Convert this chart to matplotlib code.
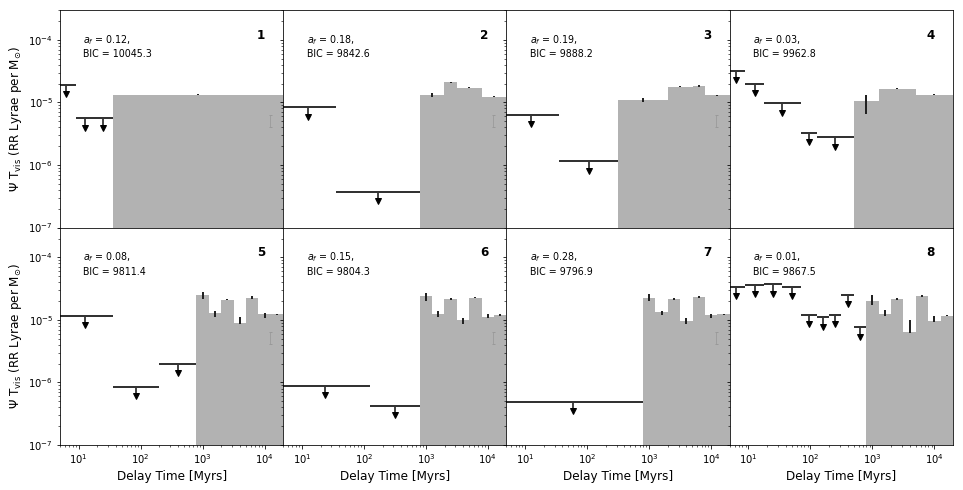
"""
RR Lyrae delay time distributions, 8 model fits
"""
import numpy as np
import matplotlib.pyplot as plt

# bin edges are log10(Myr); values in RR Lyrae per Msun
# panel 1
ul_edges_1 = [(0.65, 0.95), (0.95, 1.25), (1.25, 1.55)]
ul_vals_1 = [1.9e-5, 5.6e-6, 5.6e-6]
bar_edges_1 = [(1.55, 4.3)]
bar_vals_1 = [1.33e-5]
bar_lo_1 = [1.30e-5]
bar_hi_1 = [1.37e-5]

# panel 2
ul_edges_2 = [(0.65, 1.55), (1.55, 2.9)]
ul_vals_2 = [8.3e-6, 3.7e-7]
bar_edges_2 = [(2.9, 3.3), (3.3, 3.5), (3.5, 3.9), (3.9, 4.3)]
bar_vals_2 = [1.29e-5, 2.1e-5, 1.72e-5, 1.24e-5]
bar_lo_2 = [1.22e-5, 2.05e-5, 1.68e-5, 1.21e-5]
bar_hi_2 = [1.40e-5, 2.15e-5, 1.76e-5, 1.27e-5]

# panel 3
ul_edges_3 = [(0.65, 1.55), (1.55, 2.5)]
ul_vals_3 = [6.4e-6, 1.14e-6]
bar_edges_3 = [(2.5, 3.3), (3.3, 3.7), (3.7, 3.9), (3.9, 4.3)]
bar_vals_3 = [1.11e-5, 1.77e-5, 1.85e-5, 1.29e-5]
bar_lo_3 = [1.0e-5, 1.74e-5, 1.75e-5, 1.25e-5]
bar_hi_3 = [1.19e-5, 1.80e-5, 1.90e-5, 1.33e-5]

# panel 4
ul_edges_4 = [(0.65, 0.95), (0.95, 1.25), (1.25, 1.85), (1.85, 2.1), (2.1, 2.7)]
ul_vals_4 = [3.2e-5, 2.0e-5, 9.7e-6, 3.3e-6, 2.76e-6]
bar_edges_4 = [(2.7, 3.1), (3.1, 3.7), (3.7, 4.3)]
bar_vals_4 = [1.07e-5, 1.66e-5, 1.33e-5]
bar_lo_4 = [6.6e-6, 1.63e-5, 1.31e-5]
bar_hi_4 = [1.33e-5, 1.72e-5, 1.35e-5]

# panels 5-8 share the old bins
old_edges = [(2.9, 3.1), (3.1, 3.3), (3.3, 3.5), (3.5, 3.7), (3.7, 3.9), (3.9, 4.1), (4.1, 4.3)]

# panel 5
ul_edges_5 = [(0.65, 1.55), (1.55, 2.3), (2.3, 2.9)]
ul_vals_5 = [1.17e-5, 8.5e-7, 2.0e-6]
bar_vals_5 = [2.5e-5, 1.27e-5, 2.1e-5, 8.9e-6, 2.26e-5, 1.23e-5, 1.23e-5]
bar_lo_5 = [2.15e-5, 1.11e-5, 2.05e-5, 8.5e-6, 2.15e-5, 1.08e-5, 1.2e-5]
bar_hi_5 = [2.8e-5, 1.39e-5, 2.15e-5, 1.12e-5, 2.4e-5, 1.27e-5, 1.25e-5]

# panel 6
ul_edges_6 = [(0.65, 2.1), (2.1, 2.9)]
ul_vals_6 = [8.9e-7, 4.2e-7]
bar_vals_6 = [2.4e-5, 1.23e-5, 2.15e-5, 1.0e-5, 2.24e-5, 1.11e-5, 1.2e-5]
bar_lo_6 = [2.0e-5, 1.11e-5, 2.1e-5, 8.7e-6, 2.2e-5, 1.07e-5, 1.17e-5]
bar_hi_6 = [2.7e-5, 1.39e-5, 2.2e-5, 1.06e-5, 2.35e-5, 1.23e-5, 1.23e-5]

# panel 7
ul_edges_7 = [(0.65, 2.9)]
ul_vals_7 = [4.9e-7]
bar_vals_7 = [2.2e-5, 1.32e-5, 2.15e-5, 9.5e-6, 2.3e-5, 1.2e-5, 1.23e-5]
bar_lo_7 = [2.0e-5, 1.2e-5, 2.1e-5, 8.7e-6, 2.25e-5, 1.07e-5, 1.2e-5]
bar_hi_7 = [2.6e-5, 1.39e-5, 2.2e-5, 1.06e-5, 2.4e-5, 1.23e-5, 1.26e-5]

# panel 8
ul_edges_8 = [(0.65, 0.95), (0.95, 1.25), (1.25, 1.55), (1.55, 1.85), (1.85, 2.1),
              (2.1, 2.3), (2.3, 2.5), (2.5, 2.7), (2.7, 2.9)]
ul_vals_8 = [3.4e-5, 3.6e-5, 3.7e-5, 3.4e-5, 1.2e-5, 1.1e-5, 1.2e-5, 2.5e-5, 7.6e-6]
bar_vals_8 = [2.0e-5, 1.24e-5, 2.15e-5, 6.5e-6, 2.4e-5, 9.5e-6, 1.17e-5]
bar_lo_8 = [1.7e-5, 1.17e-5, 2.1e-5, 6.1e-6, 2.3e-5, 9.4e-6, 1.14e-5]
bar_hi_8 = [2.5e-5, 1.42e-5, 2.2e-5, 1.0e-5, 2.5e-5, 1.17e-5, 1.2e-5]

a_f = [0.12, 0.18, 0.19, 0.03, 0.08, 0.15, 0.28, 0.01]
bic = [10045.3, 9842.6, 9888.2, 9962.8, 9811.4, 9804.3, 9796.9, 9867.5]

# small grey error bar seen near 1.2e4 Myr in panels 1-3, 5-7
ghost_x = 1.2e4
ghost_lo = 4.1e-6
ghost_hi = 6.4e-6

panels = [
    (ul_edges_1, ul_vals_1, bar_edges_1, bar_vals_1, bar_lo_1, bar_hi_1),
    (ul_edges_2, ul_vals_2, bar_edges_2, bar_vals_2, bar_lo_2, bar_hi_2),
    (ul_edges_3, ul_vals_3, bar_edges_3, bar_vals_3, bar_lo_3, bar_hi_3),
    (ul_edges_4, ul_vals_4, bar_edges_4, bar_vals_4, bar_lo_4, bar_hi_4),
    (ul_edges_5, ul_vals_5, old_edges, bar_vals_5, bar_lo_5, bar_hi_5),
    (ul_edges_6, ul_vals_6, old_edges, bar_vals_6, bar_lo_6, bar_hi_6),
    (ul_edges_7, ul_vals_7, old_edges, bar_vals_7, bar_lo_7, bar_hi_7),
    (ul_edges_8, ul_vals_8, old_edges, bar_vals_8, bar_lo_8, bar_hi_8),
]
has_ghost = [True, True, True, False, True, True, True, False]

fig, axes = plt.subplots(2, 4, figsize=(963 / 72, 490 / 72), dpi=72,
                         sharex=True, sharey=True)
fig.subplots_adjust(left=0.0623, right=0.9896, top=0.9796, bottom=0.0918,
                    wspace=0, hspace=0)

line_col = '#333333'
for i, ax in enumerate(axes.flat):
    ul_edges, ul_vals, bar_edges, bar_vals, bar_lo, bar_hi = panels[i]

    # 拟合的老年龄箱
    left = np.array([10 ** e[0] for e in bar_edges])
    right = np.array([10 ** e[1] for e in bar_edges])
    mid = np.sqrt(left * right)
    ax.bar(left, np.array(bar_vals) - 1e-9, width=right - left, bottom=1e-9,
           align='edge', color='#b2b2b2', zorder=1)
    ax.vlines(mid, bar_lo, bar_hi, color='#222222', lw=2, zorder=3)

    # 上限
    for (lo, hi), v in zip(ul_edges, ul_vals):
        x0, x1 = 10 ** lo, 10 ** hi
        xc = np.sqrt(x0 * x1)
        ax.hlines(v, x0, x1, color=line_col, lw=2, zorder=2)
        ax.vlines(xc, v * 10 ** -0.14, v, color=line_col, lw=1.8, zorder=2)
        ax.plot(xc, v * 10 ** -0.15, marker='v', color='black', ms=6, zorder=3)

    if has_ghost[i]:
        ax.errorbar(ghost_x, np.sqrt(ghost_lo * ghost_hi),
                    yerr=[[np.sqrt(ghost_lo * ghost_hi) - ghost_lo],
                          [ghost_hi - np.sqrt(ghost_lo * ghost_hi)]],
                    fmt='none', ecolor='#999999', elinewidth=0.8, capsize=1.5,
                    zorder=2)

    ax.text(0.105, 0.895, '$a_f$ = %.2f,\nBIC = %.1f' % (a_f[i], bic[i]),
            transform=ax.transAxes, ha='left', va='top', fontsize=9.5,
            linespacing=1.35)
    ax.text(0.90, 0.885, str(i + 1), transform=ax.transAxes, ha='center',
            va='center', fontsize=12, fontweight='bold')

    ax.set_xscale('log')
    ax.set_yscale('log')
    ax.set_xlim(5, 10 ** 4.3)
    ax.set_ylim(1e-7, 3e-4)
    ax.tick_params(labelsize=10)

for ax in axes[1]:
    ax.set_xlabel('Delay Time [Myrs]', fontsize=12)
for ax in axes[:, 0]:
    ax.set_ylabel(r'$\Psi$ T$_{\rm vis}$ (RR Lyrae per M$_{\odot}$)', fontsize=12)

plt.savefig('out.png', dpi=72)
